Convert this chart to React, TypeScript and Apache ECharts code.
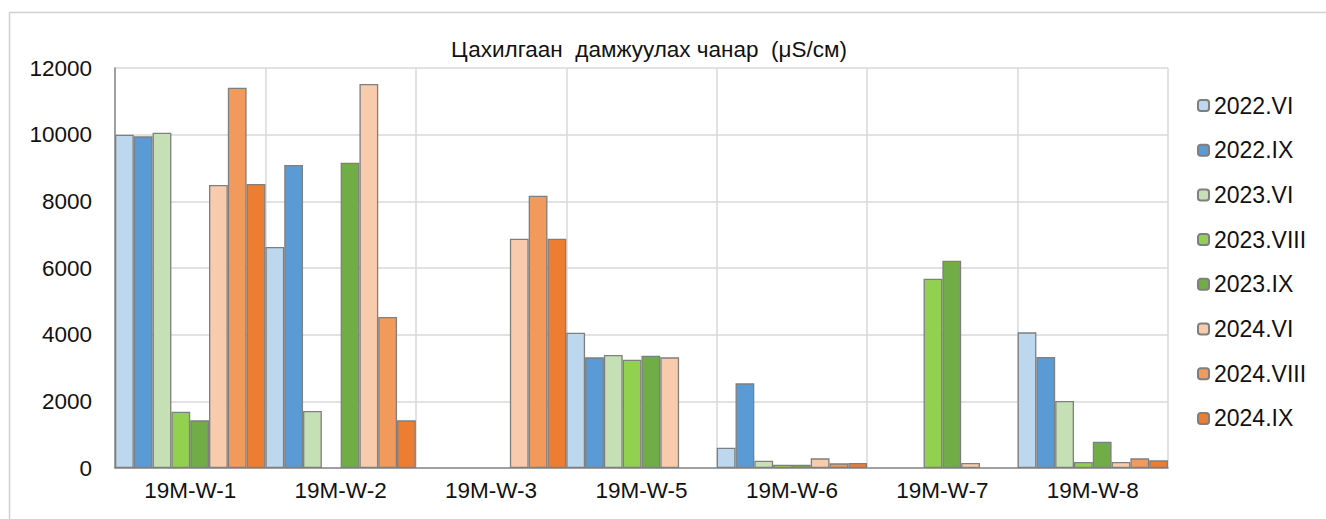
import React, { useEffect, useRef } from "react";
import * as echarts from "echarts";

const categories = ["19M-W-1", "19M-W-2", "19M-W-3", "19M-W-5", "19M-W-6", "19M-W-7", "19M-W-8"];
const seriesNames = ["2022.VI", "2022.IX", "2023.VI", "2023.VIII", "2023.IX", "2024.VI", "2024.VIII", "2024.IX"];
const seriesColors = ["#BDD7EE", "#5B9BD5", "#C5E0B4", "#92D050", "#70AD47", "#F8CBAD", "#F29A5B", "#ED7D31"];

const v2022VI = [10000, 6630, null, 4060, 610, null, 4070];
const v2022IX = [9950, 9090, null, 3320, 2540, null, 3330];
const v2023VI = [10060, 1710, null, 3390, 220, null, 2010];
const v2023VIII = [1690, null, null, 3250, 100, 5680, 180];
const v2023IX = [1430, 9160, null, 3370, 100, 6220, 790];
const v2024VI = [8490, 11520, 6880, 3320, 290, 150, 180];
const v2024VIII = [11410, 4530, 8170, null, 140, null, 290];
const v2024IX = [8520, 1430, 6880, null, 150, null, 230];

const seriesValues = [v2022VI, v2022IX, v2023VI, v2023VIII, v2023IX, v2024VI, v2024VIII, v2024IX];

const titleText = "Цахилгаан  дамжуулах чанар  (μS/см)";
const FONT = "'Liberation Sans', Arial, sans-serif";

export default function App() {
  const ref = useRef<HTMLDivElement>(null);
  useEffect(() => {
    if (!ref.current) return;
    const chart = echarts.init(ref.current, null, { renderer: "svg" });
    chart.setOption({
      animation: false,
      backgroundColor: "#ffffff",
      textStyle: { fontFamily: FONT },
      graphic: [
        {
          type: "rect",
          shape: { x: 9.5, y: 12.5, width: 1400, height: 600 },
          style: { fill: "none", stroke: "#d0d0d0", lineWidth: 1.5 },
          silent: true,
          z: -10,
        },
        {
          type: "text",
          x: 649,
          y: 49,
          style: {
            text: titleText,
            fontSize: 22.5,
            fontFamily: FONT,
            fill: "#111",
            align: "center",
            verticalAlign: "middle",
          },
        },
      ],
      legend: {
        orient: "vertical",
        left: 1192,
        top: 89,
        itemWidth: 11,
        itemHeight: 11,
        itemGap: 21.7,
        data: seriesNames,
        textStyle: { fontSize: 23, fontFamily: FONT, color: "#111", lineHeight: 23 },
      },
      grid: { left: 115, right: 158, top: 68, bottom: 51, containLabel: false },
      xAxis: {
        type: "category",
        data: categories,
        axisTick: { show: false },
        axisLine: { show: true, lineStyle: { color: "#8a8a8a", width: 1.5 } },
        splitLine: { show: true, lineStyle: { color: "#d9d9d9", width: 1.5 } },
        axisLabel: { fontSize: 22.5, fontFamily: FONT, color: "#111", margin: 11 },
      },
      yAxis: {
        type: "value",
        min: 0,
        max: 12000,
        interval: 2000,
        axisLine: { show: true, lineStyle: { color: "#8a8a8a", width: 1.5 } },
        axisTick: { show: false },
        splitLine: { show: true, lineStyle: { color: "#d9d9d9", width: 1.5 } },
        axisLabel: {
          fontSize: 22.5,
          fontFamily: FONT,
          color: "#111",
          margin: 23,
          formatter: (v: number) => String(v),
        },
      },
      series: seriesNames.map((name, i) => ({
        name,
        type: "bar",
        data: seriesValues[i],
        barGap: "0%",
        barCategoryGap: "0%",
        itemStyle: { color: seriesColors[i], borderColor: "#7f7f7f", borderWidth: 1.3 },
      })),
    });
    return () => chart.dispose();
  }, []);
  return (
    <div
      ref={ref}
      style={{ position: "fixed", left: 0, top: 0, width: 1326, height: 519 }}
    />
  );
}
